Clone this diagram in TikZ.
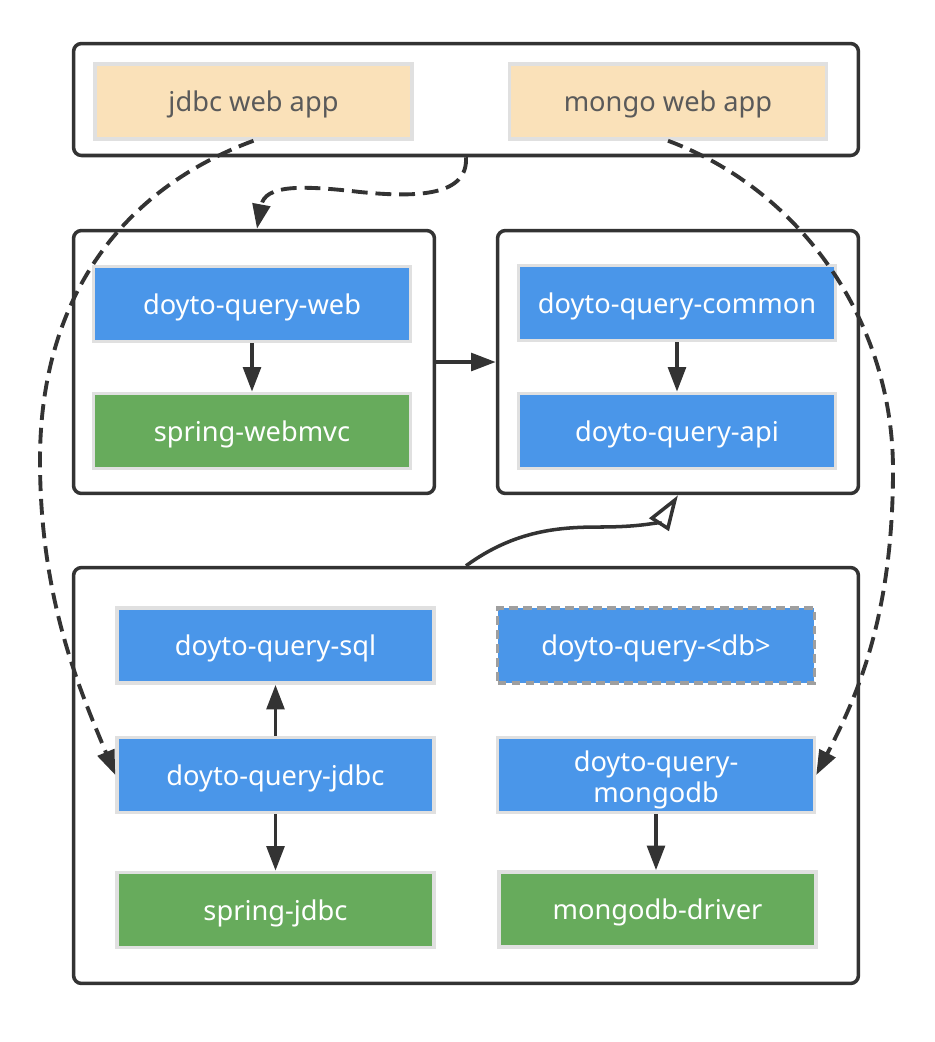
\documentclass[tikz,border=0pt]{standalone}
\usepackage{fontspec}
\setmainfont{Noto Sans}
\usetikzlibrary{arrows.meta}
\definecolor{lineC}{RGB}{51,51,51}
\definecolor{edgeC}{RGB}{224,224,224}
\definecolor{blueC}{RGB}{74,150,233}
\definecolor{greenC}{RGB}{103,171,92}
\definecolor{peachC}{RGB}{250,225,185}
\definecolor{appText}{RGB}{90,90,90}
\tikzset{
  group/.style={draw=lineC, line width=2pt, rounded corners=4.5pt, inner sep=0pt},
  module/.style={draw=edgeC, line width=2pt, minimum width=6.34cm, minimum height=1.5cm,
    inner sep=0pt, text height=1.4em, text depth=0.25em, font=\fontsize{15.5}{18}\selectfont},
  core/.style={module, fill=blueC, text=white},
  lib/.style={module, fill=greenC, text=white},
  app/.style={module, fill=peachC, text=appText},
  twoline/.style={align=center, text height=34pt},
  dep/.style={draw=lineC, line width=2.2pt, -{Triangle[length=14pt,width=10pt]}},
  use/.style={dep, dash pattern=on 9pt off 4.5pt},
  impl/.style={draw=lineC, line width=2pt, -{Triangle[open,length=20pt,width=13pt]}},
}
\begin{document}
\begin{tikzpicture}[x=0.02cm,y=-0.02cm]
  \useasboundingbox (0,0) rectangle (934,1042);

  % Groups
  \node [group, minimum width=15.7cm, minimum height=2.24cm] (apps) at (466,99.5) {};
  \node [group, minimum width=7.22cm, minimum height=5.26cm] (webgrp) at (254,362) {};
  \node [group, minimum width=7.22cm, minimum height=5.26cm] (apigrp) at (678,362) {};
  \node [group, minimum width=15.7cm, minimum height=8.32cm] (dbgrp) at (466,775.5) {};

  % Apps
  \node [app] (jdbcapp) at (253.5,101.5) {jdbc web app};
  \node [app] (mongoapp) at (668,101.5) {mongo web app};

  % Modules
  \node [core] (web) at (252,304) {doyto-query-web};
  \node [lib] (webmvc) at (252,431) {spring-webmvc};
  \node [core] (common) at (677,303) {doyto-query-common};
  \node [core] (api) at (677,431) {doyto-query-api};
  \node [core] (sql) at (275.5,645.5) {doyto-query-sql};
  \node [core, draw=gray!75, dash pattern=on 5pt off 3pt] (anydb) at (656,645.5) {doyto-query-<db>};
  \node [core] (jdbc) at (275.5,775) {doyto-query-jdbc};
  \node [core, twoline] (mongodb) at (656,775) {doyto-query-\\mongodb};
  \node [lib] (springjdbc) at (275.5,910) {spring-jdbc};
  \node [lib] (driver) at (657.5,909.5) {mongodb-driver};

  % Dependencies
  \draw [dep] (web.south) -- (webmvc.north);
  \draw [dep] (common.south) -- (api.north);
  \draw [dep] (webgrp.east) -- (apigrp.west);
  \draw [dep] (jdbc.north) -- (sql.south);
  \draw [dep] (jdbc.south) -- (springjdbc.north);
  \draw [dep] (mongodb.south) -- (mongodb.south |- driver.north);
  \draw [impl] (dbgrp.north) .. controls (515,530) and (560,527) .. (600,527)
    .. controls (650,527) and (662,520) .. (apigrp.south);

  % Usage
  \draw [use] (apps.south) .. controls (468,195) and (420,198) .. (360,192)
    .. controls (300,185) and (265,185) .. ([xshift=0.06cm]webgrp.north);
  \draw [use] (jdbcapp.south) .. controls (120,190) and (40,300) .. (40,460)
    .. controls (40,600) and (80,690) .. (jdbc.west);
  \draw [use] (mongoapp.south) .. controls (800,190) and (893,320) .. (893,470)
    .. controls (893,620) and (855,700) .. (mongodb.east);
\end{tikzpicture}
\end{document}
